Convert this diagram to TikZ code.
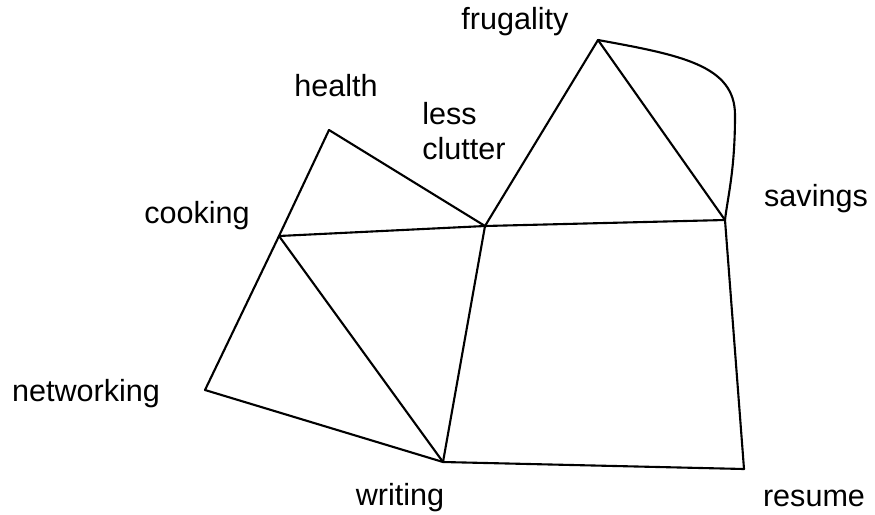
\documentclass[tikz,border=0pt]{standalone}
\usepackage{fontspec}
\setmainfont{Liberation Sans}
\begin{document}
\begin{tikzpicture}[
		x=0.02cm, y=-0.02cm,
		word/.style={font=\fontsize{17.4}{20}\selectfont, inner sep=0pt},
		edge/.style={line width=1.2pt, line join=round, line cap=round}
		]
		\useasboundingbox (0,0) rectangle (875,514);
		
		\coordinate (health) at (329,130);
		\coordinate (cooking) at (279,236);
		\coordinate (clutter) at (485,226);
		\coordinate (frugality) at (598,40);
		\coordinate (savings) at (725,220);
		\coordinate (networking) at (205,390);
		\coordinate (writing) at (443,462);
		\coordinate (resume) at (744,469);
		\coordinate (bulge) at (735,115);
		
		\node[word] (healthtext) at (336,86) {health};
		\node[word] (cookingtext) at (197,216) {cooking};
		\node[word, align=left, anchor=west] (cluttertext) at (422,131) {less\\clutter};
		\node[word] (frugalitytext) at (515,22) {frugality};
		\node[word] (savingstext) at (816,199) {savings};
		\node[word] (networkingtext) at (86,394) {networking};
		\node[word] (writingtext) at (400,498) {writing};
		\node[word] (resumetext) at (814,498) {resume};
		
		\draw[edge] (health) -- (cooking);
		\draw[edge] (health) -- (clutter);
		\draw[edge] (cooking) -- (clutter);
		\draw[edge] (cooking) -- (networking);
		\draw[edge] (cooking) -- (writing);
		\draw[edge] (networking) -- (writing);
		\draw[edge] (clutter) -- (writing);
		\draw[edge] (clutter) -- (frugality);
		\draw[edge] (clutter) -- (savings);
		\draw[edge] (frugality) -- (savings);
		\draw[edge] (frugality) .. controls (680,55) and (735,65) .. (bulge) .. controls (735,170) and (728,195) .. (savings);
		\draw[edge] (writing) -- (resume);
		\draw[edge] (savings) -- (resume);
		
	\end{tikzpicture}
\end{document}
